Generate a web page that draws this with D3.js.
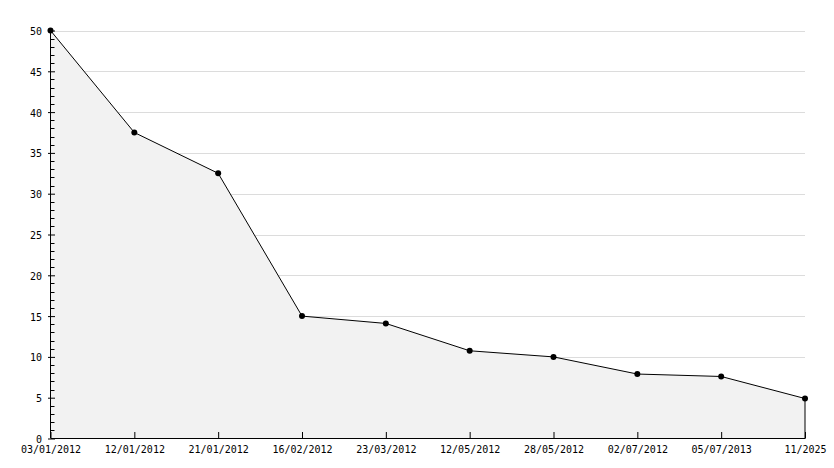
<!DOCTYPE html>
<html><head><meta charset="utf-8">
<script src="https://cdn.jsdelivr.net/npm/d3@7"></script>
<style>
html,body{margin:0;padding:0;background:#fff;}
svg{display:block;}
text{font-family:"DejaVu Sans Mono",monospace;font-size:10px;fill:#000;}
</style></head>
<body><svg id="c" width="834" height="468"></svg>
<script>
const categories = ["03/01/2012","12/01/2012","21/01/2012","16/02/2012","23/03/2012","12/05/2012","28/05/2012","02/07/2012","05/07/2013","11/2025"];
const values = [50, 37.5, 32.5, 15, 14.1, 10.75, 10, 7.9, 7.6, 4.9];
const yTicks = [0,5,10,15,20,25,30,35,40,45,50];

const svg = d3.select("#c");
const mLeft = 50.5, mRight = 805, mTop = 30.5, mBottom = 438.5;
const x = d3.scalePoint().domain(categories).range([mLeft, mRight]);
const y = d3.scaleLinear().domain([0,50]).range([mBottom, mTop]);

// grid
svg.append("g").selectAll("line").data(yTicks.filter(d=>d>0)).join("line")
  .attr("x1", mLeft).attr("x2", mRight)
  .attr("y1", d=>Math.round(y(d))+0.5).attr("y2", d=>Math.round(y(d))+0.5)
  .attr("stroke","#dcdcdc").attr("stroke-width",1);

// area
const area = d3.area().x((d,i)=>x(categories[i])).y0(y(0)).y1(d=>y(d));
svg.append("path").datum(values).attr("d", area).attr("fill","#f2f2f2");
// right edge
svg.append("line").attr("x1", x(categories[categories.length-1])).attr("x2", x(categories[categories.length-1]))
  .attr("y1", y(values[values.length-1])).attr("y2", y(0)).attr("stroke","#000");

// line
const line = d3.line().x((d,i)=>x(categories[i])).y(d=>y(d));
svg.append("path").datum(values).attr("d", line).attr("fill","none").attr("stroke","#000").attr("stroke-width",1);

// y axis minor ticks
const minor = d3.range(0,51,1).filter(d=>d%5!==0);
svg.append("g").selectAll("line").data(minor).join("line")
  .attr("x1", mLeft).attr("x2", mLeft+4)
  .attr("y1", d=>Math.round(y(d))+0.5).attr("y2", d=>Math.round(y(d))+0.5)
  .attr("stroke","#000");

// y axis
const yAxis = d3.axisRight(y).tickValues(yTicks).tickSize(5).tickFormat(d3.format("d"));
const gy = svg.append("g").attr("transform",`translate(${mLeft-0.5},0)`).call(yAxis);
gy.select(".domain").attr("d", `M0.5,${mTop-1}V${mBottom}`).attr("stroke","#000");
gy.selectAll(".tick line").attr("x1",-2).attr("stroke","#000");
gy.selectAll(".tick text").attr("x",-8).attr("dy","0.4em").attr("text-anchor","end");

// x axis
const xAxis = d3.axisTop(x).tickSize(6).tickSizeOuter(0);
const gx = svg.append("g").attr("transform",`translate(0,${mBottom-0.5})`).call(xAxis);
gx.select(".domain").attr("stroke","#000");
gx.selectAll(".tick line").attr("stroke","#000");
gx.selectAll(".tick text").attr("y",15).attr("dy",0).attr("text-anchor","middle");

// markers
svg.append("g").selectAll("circle").data(values).join("circle")
  .attr("cx",(d,i)=>x(categories[i])).attr("cy",d=>y(d)).attr("r",3).attr("fill","#000");
</script></body></html>
